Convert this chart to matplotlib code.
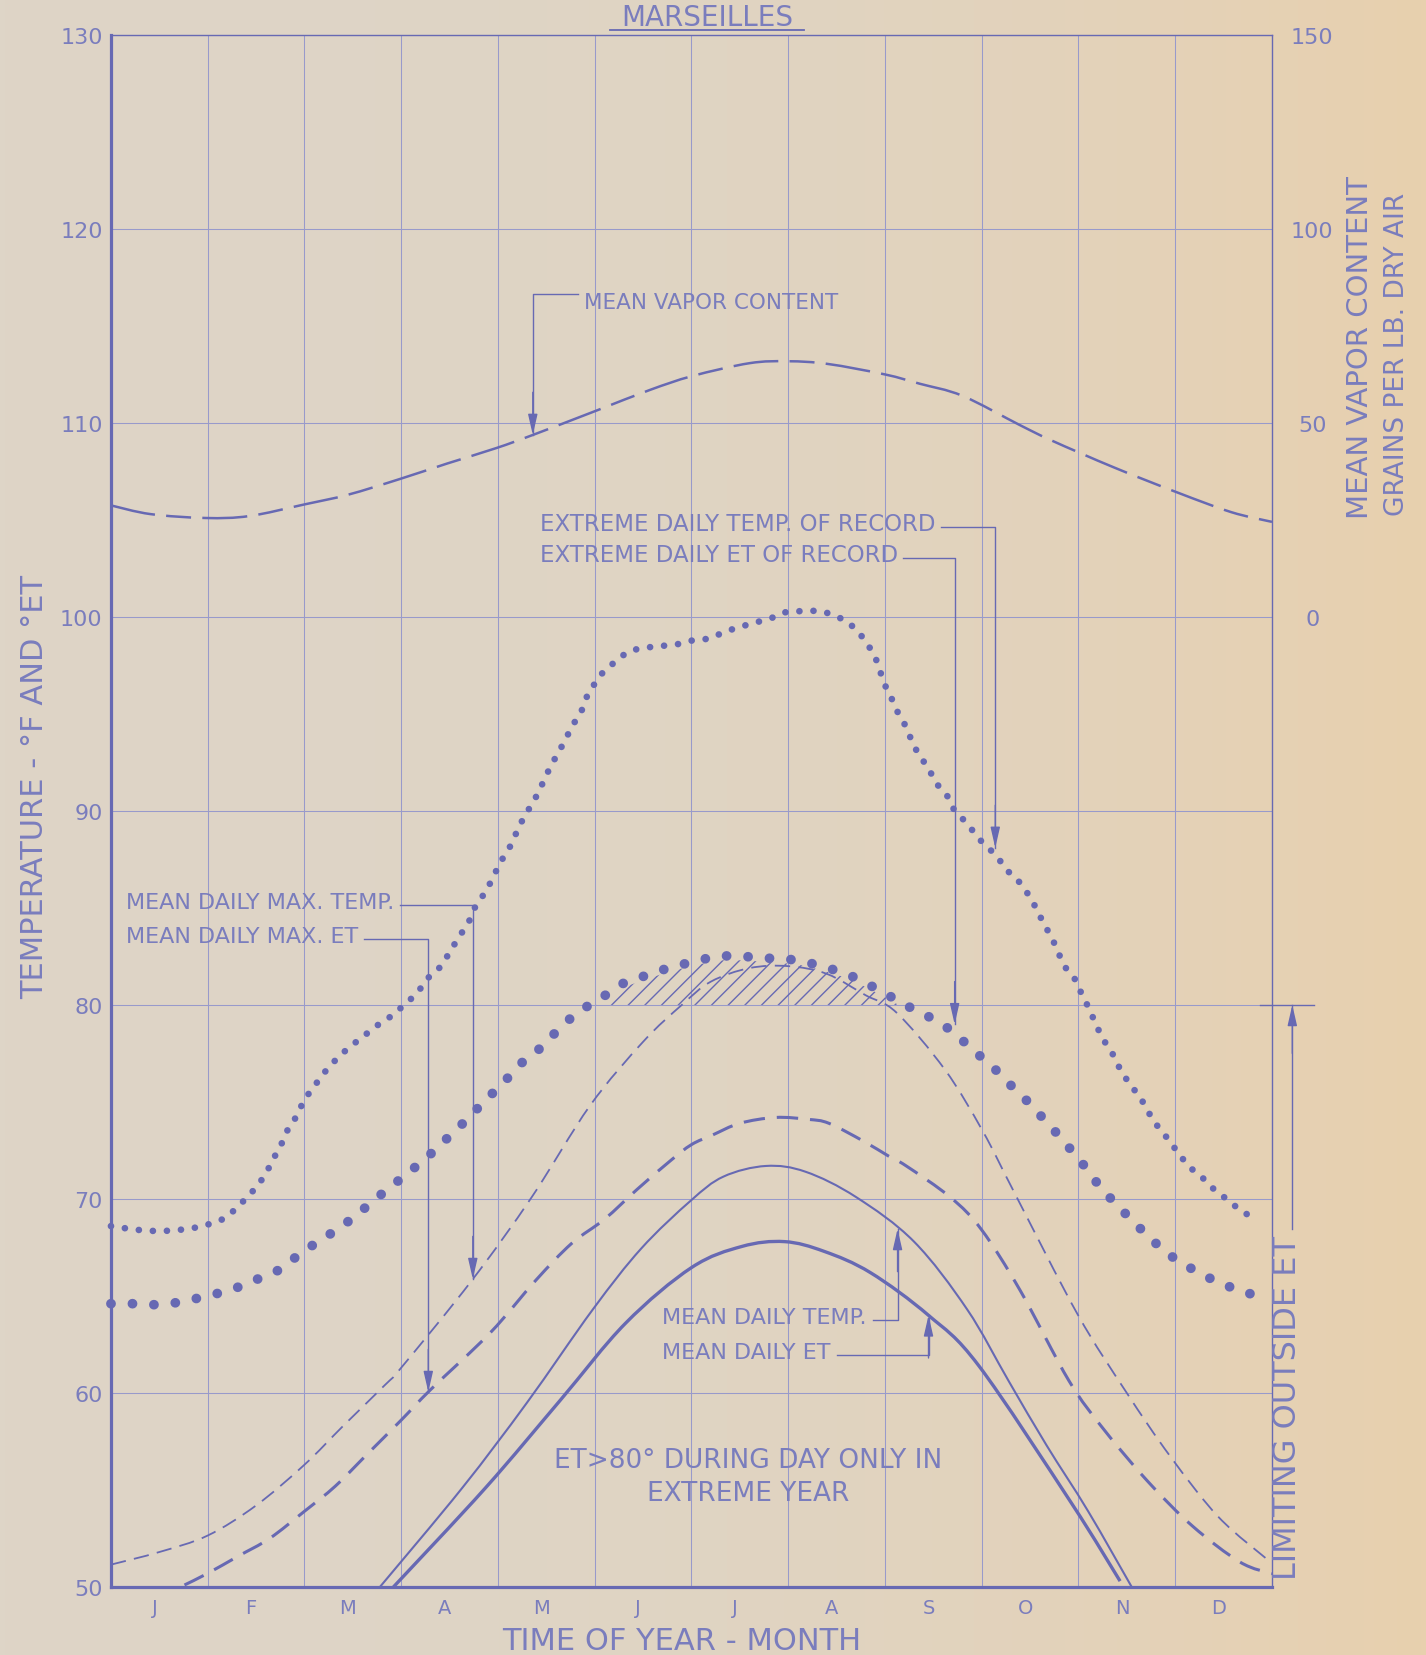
"""Marseilles climate chart (temperature / effective temperature), redrawn."""

import numpy as np
import matplotlib
matplotlib.use('Agg')
import matplotlib.pyplot as plt
from matplotlib.colors import to_rgb
from matplotlib.lines import Line2D
from matplotlib.path import Path
from matplotlib.patches import PathPatch

plt.rcParams['font.family'] = ['DejaVu Sans']
plt.rcParams['hatch.linewidth'] = 1.0

INK = '#6769b3'
TXT = '#7a7dbd'
GRID = '#989acb'

months = ['J', 'F', 'M', 'A', 'M', 'J', 'J', 'A', 'S', 'O', 'N', 'D']
temp_ticks = [50, 60, 70, 80, 90, 100, 110, 120, 130]
vapor_ticks = [0, 50, 100, 150]

# extreme daily temp of record (small dots), x in months from Jan 1
ext_temp_m = [0.0, 0.29, 0.54, 0.85, 1.13, 1.27, 1.39, 1.50, 1.60, 1.67,
              1.75, 1.82, 1.91, 2.00, 2.10, 2.22, 2.33, 2.46, 2.59, 2.74,
              2.89, 3.03, 3.16, 3.28, 3.41, 3.51, 3.61, 3.70, 3.77, 3.88,
              3.96, 4.06, 4.14, 4.21, 4.29, 4.38, 4.45, 4.52, 4.60, 4.69,
              4.77, 4.85, 4.91, 4.98, 5.06, 5.19, 5.35, 5.51, 5.68, 5.86,
              6.02, 6.19, 6.33, 6.51, 6.69, 6.86, 6.98, 7.16, 7.33, 7.46,
              7.59, 7.70, 7.79, 7.88, 7.94, 7.98, 8.06, 8.12, 8.20, 8.27,
              8.35, 8.45, 8.52, 8.64, 8.71, 8.82, 8.92, 9.02, 9.15, 9.25,
              9.36, 9.48, 9.56, 9.64, 9.73, 9.80, 9.87, 9.96, 10.03, 10.11,
              10.18, 10.26, 10.35, 10.43, 10.52, 10.64, 10.72, 10.81, 10.94, 11.04,
              11.16, 11.28, 11.40, 11.53, 11.68, 11.85]
ext_temp_t = [68.6, 68.4, 68.35, 68.5, 68.9, 69.4, 70.0, 70.6, 71.3, 72.0,
              72.7, 73.5, 74.2, 75.1, 75.8, 76.6, 77.2, 77.8, 78.3, 78.9,
              79.4, 80.0, 80.6, 81.4, 82.0, 82.8, 83.6, 84.3, 85.1, 85.9,
              86.7, 87.65, 88.3, 89.1, 89.85, 90.6, 91.3, 92.05, 92.8, 93.6,
              94.4, 95.0, 95.8, 96.4, 97.0, 97.6, 98.2, 98.4, 98.5, 98.6,
              98.8, 98.9, 99.2, 99.5, 99.75, 100.0, 100.25, 100.3, 100.3, 100.1,
              99.8, 99.35, 98.8, 98.1, 97.4, 96.7, 95.9, 95.2, 94.5, 93.7,
              92.9, 92.2, 91.5, 90.8, 90.1, 89.5, 88.9, 88.3, 87.7, 87.0,
              86.5, 85.7, 85.0, 84.2, 83.4, 82.6, 81.9, 81.35, 80.6, 79.8,
              79.0, 78.2, 77.5, 76.7, 76.0, 75.2, 74.5, 73.8, 73.0, 72.3,
              71.6, 71.1, 70.5, 70.0, 69.4, 68.9]

# extreme daily ET of record (big dots)
ext_et_m = [0.0, 0.24, 0.47, 0.73, 0.99, 1.23, 1.48, 1.72, 1.91, 2.11,
            2.33, 2.52, 2.71, 2.91, 3.11, 3.30, 3.49, 3.70, 3.87, 4.04,
            4.22, 4.42, 4.62, 4.82, 5.05, 5.29, 5.52, 5.76, 6.00, 6.27,
            6.53, 6.82, 7.09, 7.34, 7.60, 7.81, 8.00, 8.21, 8.45, 8.65,
            8.84, 9.02, 9.20, 9.35, 9.51, 9.66, 9.81, 9.96, 10.11, 10.24,
            10.40, 10.55, 10.72, 10.89, 11.07, 11.28, 11.50, 11.71, 11.91]
ext_et_t = [64.6, 64.6, 64.55, 64.7, 65.0, 65.3, 65.8, 66.3, 67.0, 67.7,
            68.4, 69.1, 69.9, 70.7, 71.5, 72.3, 73.2, 74.2, 75.1, 75.9,
            76.9, 77.7, 78.7, 79.6, 80.3, 81.1, 81.5, 81.9, 82.2, 82.5,
            82.5, 82.4, 82.3, 82.0, 81.6, 81.1, 80.6, 80.0, 79.4, 78.8,
            78.0, 77.2, 76.4, 75.6, 74.85, 74.0, 73.2, 72.3, 71.4, 70.5,
            69.7, 68.9, 68.1, 67.3, 66.7, 66.1, 65.6, 65.2, 64.95]

# mean daily max temp (thin dashes)
max_temp_m = [0.0, 0.5, 1.0, 1.5, 2.0, 2.4, 2.83, 3.0, 3.73, 4.35, 4.95, 5.5,
              5.9, 6.2, 6.6, 7.0, 7.4, 7.8, 8.12, 8.62, 9.01, 9.34, 9.99,
              10.49, 10.95, 11.45, 11.98]
max_temp_t = [51.15, 51.8, 52.65, 54.2, 56.3, 58.3, 60.4, 61.3, 65.8, 70.1,
              74.8, 78.1, 80.0, 81.2, 81.9, 82.0, 81.6, 80.5, 79.6, 76.66,
              73.5, 70.3, 64.06, 60.07, 56.72, 53.59, 51.3]

# mean daily max ET (heavy dashes)
max_et_m = [0.76, 1.0, 1.32, 1.64, 2.0, 2.32, 2.64, 3.0, 3.31, 3.92, 4.39,
            4.76, 5.1, 5.44, 5.78, 6.0, 6.22, 6.5, 6.87, 7.21, 7.42, 7.77,
            8.04, 8.22, 8.68, 9.0, 9.4, 9.9, 10.26, 10.72, 11.18, 11.67, 12.0]
max_et_t = [50.1, 50.7, 51.6, 52.5, 53.9, 55.2, 56.8, 58.6, 60.2, 63.1, 65.8,
            67.7, 68.95, 70.5, 71.96, 72.8, 73.3, 73.9, 74.2, 74.1, 73.9, 73.0,
            72.2, 71.7, 70.07, 68.4, 65.26, 60.64, 58.13, 55.42, 53.13, 51.28,
            50.68]

# mean daily temp (thin solid)
mean_temp_m = [2.78, 3.63, 4.3, 4.98, 5.48, 5.99, 6.33, 6.77, 7.18, 7.7,
               8.3, 8.85, 9.28, 9.67, 10.1, 10.55]
mean_temp_t = [50.0, 55.1, 59.5, 64.3, 67.44, 69.9, 71.15, 71.7, 71.4, 70.1,
               67.8, 64.3, 60.6, 57.3, 53.9, 50.0]

# mean daily ET (heavy solid)
mean_et_m = [2.92, 3.87, 4.64, 5.32, 6.0, 6.52, 6.96, 7.37, 7.85, 8.45,
             8.97, 9.93, 10.43]
mean_et_t = [50.0, 55.1, 59.6, 63.6, 66.46, 67.55, 67.8, 67.3, 66.2, 64.0,
             61.4, 54.3, 50.3]

# mean vapor content, grains per lb dry air (right scale)
vapor_m = [0.0, 0.41, 0.98, 1.43, 2.0, 2.45, 2.98, 3.47, 3.98, 4.36, 5.02,
           5.57, 6.01, 6.6, 7.0, 7.41, 8.0, 8.36, 8.8, 9.39, 9.72, 10.37,
           11.03, 11.58, 12.0]
vapor_gr = [28.75, 26.5, 25.5, 26.0, 29.0, 31.5, 35.5, 39.5, 43.5, 46.9, 53.2,
            58.5, 62.1, 65.4, 65.9, 65.2, 62.5, 60.1, 57.0, 49.5, 45.5, 38.5,
            32.0, 27.0, 24.5]


def smooth_path(x, y):
    """Cubic Bezier path through the given points (Catmull-Rom tangents)."""
    p = np.column_stack([x, y]).astype(float)
    n = len(p)
    verts, codes = [p[0]], [Path.MOVETO]
    for i in range(n - 1):
        p0 = p[i - 1] if i > 0 else p[i]
        p1, p2 = p[i], p[i + 1]
        p3 = p[i + 2] if i + 2 < n else p[i + 1]
        verts += [p1 + (p2 - p0) / 6, p2 - (p3 - p1) / 6, p2]
        codes += [Path.CURVE4] * 3
    return Path(verts, codes)


def curve(ax, x, y, **kw):
    patch = PathPatch(smooth_path(x, y), fill=False, edgecolor=INK, **kw)
    ax.add_patch(patch)
    return patch


def main():
    fig = plt.figure(figsize=(14.26, 16.56), dpi=100)

    # paper tone, yellowing toward the right edge
    bg = fig.add_axes([0, 0, 1, 1], zorder=-10)
    g = np.linspace(0, 1, 300) ** 2.4
    c0, c1 = np.array(to_rgb('#ded5c7')), np.array(to_rgb('#e8d0ae'))
    paper = c0 + (c1 - c0) * g[:, None]
    bg.imshow(paper[None, :, :], aspect='auto', extent=[0, 1, 0, 1])
    bg.axis('off')

    ax = fig.add_axes([0.0778, 0.0411, 0.8142, 0.9372])
    ax.set_facecolor('none')
    ax.set_xlim(0, 12)
    ax.set_ylim(50, 130)
    ax.set_yticks(temp_ticks)
    ax.set_xticks(np.arange(12) + 0.45, months)
    ax.set_xticks(np.arange(1, 12), minor=True)
    ax.grid(axis='y', which='major', color=GRID, lw=0.75)
    ax.grid(axis='x', which='minor', color=GRID, lw=0.75)
    ax.tick_params(which='both', length=0, colors=TXT)
    ax.tick_params(axis='y', labelsize=16, pad=6)
    ax.tick_params(axis='x', labelsize=14, pad=8)
    for side, lw in [('left', 2.3), ('bottom', 2.3), ('top', 1.0), ('right', 1.0)]:
        ax.spines[side].set_linewidth(lw)
        ax.spines[side].set_color(INK)

    # right scale: 0 grains at 100 deg, 50 grains per 10 deg
    ax2 = ax.twinx()
    ax2.set_ylim((50 - 100) * 5, (130 - 100) * 5)
    ax2.set_yticks(vapor_ticks)
    ax2.tick_params(length=0, labelsize=16, pad=29, colors=TXT)
    for lab in ax2.get_yticklabels():
        lab.set_ha('center')
    for s in ax2.spines.values():
        s.set_visible(False)

    # curves
    curve(ax, max_temp_m, max_temp_t, lw=1.3, ls=(0, (8.5, 4.6)), zorder=4)
    curve(ax, max_et_m, max_et_t, lw=2.2, ls=(0, (7.0, 3.9)), zorder=4)
    curve(ax, mean_temp_m, mean_temp_t, lw=1.5, zorder=4)
    curve(ax, mean_et_m, mean_et_t, lw=2.4, zorder=4)
    curve(ax2, vapor_m, vapor_gr, lw=1.8, ls=(0, (18, 4.5, 10, 4.5)), zorder=4)

    et = np.array(ext_et_t)
    ax.fill_between(ext_et_m, 80, et - 0.2, where=et - 0.2 > 80, interpolate=True,
                    facecolor='none', edgecolor=INK, hatch='//', linewidth=0, zorder=3)
    curve(ax, ext_temp_m, ext_temp_t, lw=4.8, ls=(0, (0.01, 2.1)),
          capstyle='round', zorder=5, clip_on=False)
    curve(ax, ext_et_m, ext_et_t, lw=7.0, ls=(0, (0.01, 2.2)),
          capstyle='round', zorder=5, clip_on=False)

    r = fig.canvas.get_renderer()
    inv = ax.transData.inverted()

    def label(x, y, s, size):
        return ax.text(x, y, s, fontsize=size, color=TXT, ha='left', va='center', zorder=7)

    def x_end(t):
        bb = t.get_window_extent(r)
        return inv.transform((bb.x1, bb.y0))[0]

    def x_start(t):
        bb = t.get_window_extent(r)
        return inv.transform((bb.x0, bb.y0))[0]

    def leader(xs, ys, up):
        ax.plot(xs, ys, color=INK, lw=1.0, zorder=7, clip_on=False)
        tip = (xs[-1], ys[-1])
        back = (xs[-1], ys[-1] + (-2.2 if up else 2.2))
        ax.annotate('', xy=tip, xytext=back, zorder=8,
                    arrowprops=dict(arrowstyle='-|>,head_length=0.7,head_width=0.16',
                                    color=INK, lw=1.0, shrinkA=0, shrinkB=0,
                                    mutation_scale=18))

    t = label(4.89, 116.25, 'MEAN VAPOR CONTENT', 15.5)
    xv = 4.36
    tip = 100 + np.interp(xv, vapor_m, vapor_gr) / 5
    leader([x_start(t) - 0.06, xv, xv], [116.65, 116.65, tip], up=False)

    t = label(4.43, 104.8, 'EXTREME DAILY TEMP. OF RECORD', 16.5)
    xv = 9.14
    tip = np.interp(xv, ext_temp_m, ext_temp_t) + 0.35
    leader([x_end(t) + 0.06, xv, xv], [104.65, 104.65, tip], up=False)

    t = label(4.43, 103.2, 'EXTREME DAILY ET OF RECORD', 16.5)
    xv = 8.72
    tip = np.interp(xv, ext_et_m, ext_et_t) + 0.5
    leader([x_end(t) + 0.06, xv, xv], [103.05, 103.05, tip], up=False)

    t = label(0.16, 85.3, 'MEAN DAILY MAX. TEMP.', 16)
    xv = 3.74
    tip = np.interp(xv, max_temp_m, max_temp_t)
    leader([x_end(t) + 0.06, xv, xv], [85.15, 85.15, tip], up=False)

    t = label(0.16, 83.55, 'MEAN DAILY MAX. ET', 16)
    xv = 3.28
    tip = np.interp(xv, max_et_m, max_et_t)
    leader([x_end(t) + 0.06, xv, xv], [83.4, 83.4, tip], up=False)

    t = label(5.7, 63.9, 'MEAN DAILY TEMP.', 16)
    xv = 8.13
    tip = np.interp(xv, mean_temp_m, mean_temp_t)
    leader([x_end(t) + 0.06, xv, xv], [63.75, 63.75, tip], up=True)

    t = label(5.7, 62.1, 'MEAN DAILY ET', 16)
    xv = 8.45
    tip = np.interp(xv, mean_et_m, mean_et_t)
    leader([x_end(t) + 0.06, xv, xv], [61.95, 61.95, tip], up=True)

    ax.text(6.59, 56.56, 'ET>80° DURING DAY ONLY IN', fontsize=19, color=TXT,
            ha='center', va='center', zorder=7)
    ax.text(6.59, 54.82, 'EXTREME YEAR', fontsize=19, color=TXT,
            ha='center', va='center', zorder=7)

    # limiting outside ET, outside the right edge
    t = ax.text(12.16, 59.3, 'LIMITING OUTSIDE ET', fontsize=23, color=TXT, rotation=90,
                ha='center', va='center', clip_on=False)
    bb = t.get_window_extent(r)
    top = inv.transform((bb.x0, bb.y1))[1]
    xl = 12.21
    ax.plot([xl, xl], [top + 0.3, 80], color=INK, lw=1.0, clip_on=False)
    ax.plot([11.88, 12.43], [80, 80], color=INK, lw=1.0, clip_on=False)
    ax.annotate('', xy=(xl, 80), xytext=(xl, 77.5),
                arrowprops=dict(arrowstyle='-|>,head_length=0.7,head_width=0.16',
                                color=INK, lw=1.0, shrinkA=0, shrinkB=0,
                                mutation_scale=18), annotation_clip=False)

    # titles and axis labels
    fig.text(0.496, 0.9842, 'MARSEILLES', fontsize=20, color=TXT, ha='center', va='baseline')
    fig.add_artist(Line2D([0.428, 0.564], [0.9815, 0.9815], color=INK, lw=1.3))
    fig.text(0.024, 0.525, 'TEMPERATURE - °F AND °ET', fontsize=22, color=TXT,
             rotation=90, ha='center', va='center')
    fig.text(0.954, 0.790, 'MEAN VAPOR CONTENT', fontsize=21, color=TXT,
             rotation=90, ha='center', va='center')
    fig.text(0.980, 0.786, 'GRAINS PER LB. DRY AIR', fontsize=19, color=TXT,
             rotation=90, ha='center', va='center')
    fig.text(0.478, 0.0036, 'TIME OF YEAR - MONTH', fontsize=22, color=TXT,
             ha='center', va='baseline')

    fig.savefig('out.png', dpi=100)


if __name__ == '__main__':
    main()
